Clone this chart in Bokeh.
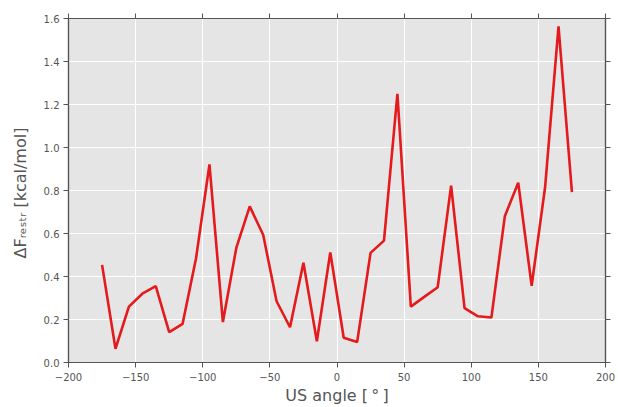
from bokeh.plotting import figure
from bokeh.models import Range1d, LinearAxis, FixedTicker
from bokeh.embed import file_html
from bokeh.resources import INLINE

angle = [-175, -165, -155, -145, -135, -125, -115, -105, -95, -85, -75, -65,
         -55, -45, -35, -25, -15, -5, 5, 15, 25, 35, 45, 55, 65, 75, 85, 95,
         105, 115, 125, 135, 145, 155, 165, 175]
dF = [0.454, 0.064, 0.26, 0.32, 0.355, 0.141, 0.18, 0.485, 0.921, 0.188, 0.533, 0.726,
      0.594, 0.285, 0.164, 0.464, 0.099, 0.512, 0.115, 0.095, 0.51, 0.567, 1.25, 0.26,
      0.305, 0.35, 0.823, 0.253, 0.215, 0.209, 0.68, 0.836, 0.357, 0.815, 1.563, 0.792]

x_ticks = [-200, -150, -100, -50, 0, 50, 100, 150, 200]
y_ticks = [0.0, 0.2, 0.4, 0.6, 0.8, 1.0, 1.2, 1.4, 1.6]

p = figure(width=618, height=407, output_backend="svg", toolbar_location=None,
           x_range=Range1d(-200, 200), y_range=Range1d(0, 1.6),
           min_border_left=68, min_border_right=13, min_border_top=18, min_border_bottom=45)
p.background_fill_color = "#E5E5E5"
p.border_fill_color = "white"
p.outline_line_color = "#555555"
p.outline_line_width = 1.2

p.line(angle, dF, line_color="#E41A1C", line_width=2.6)

bottom = p.below[0]
left = p.left[0]
bottom.ticker = FixedTicker(ticks=x_ticks)
left.ticker = FixedTicker(ticks=y_ticks)
bottom.major_label_overrides = {t: (str(t).replace("-", "\u2212")) for t in x_ticks}
left.major_label_overrides = {t: f"{t:.1f}" for t in y_ticks}

top = LinearAxis(ticker=FixedTicker(ticks=x_ticks))
right = LinearAxis(ticker=FixedTicker(ticks=y_ticks))
top.major_label_overrides = {t: "" for t in x_ticks}
right.major_label_overrides = {t: "" for t in y_ticks}
p.add_layout(top, "above")
p.add_layout(right, "right")

for ax in [bottom, left, top, right]:
    ax.axis_line_color = "#555555"
    ax.axis_line_width = 1.2
    ax.major_tick_line_color = "#555555"
    ax.major_tick_out = 5
    ax.major_tick_in = 0
    ax.minor_tick_line_color = None
    ax.major_label_text_color = "#555555"
    ax.major_label_text_font = "DejaVu Sans"
    ax.major_label_text_font_size = "10px"
    ax.major_label_standoff = 4

top.major_label_standoff = 0
right.major_label_standoff = 0
bottom.major_label_standoff = 5

bottom.axis_label = "US angle [\u2009\u00b0\u2009]"
left.axis_label = "\u0394F\u1d63\u2091\u209b\u209c\u1d63  [kcal/mol]"
for ax in [bottom, left]:
    ax.axis_label_text_font = "DejaVu Sans"
    ax.axis_label_text_font_size = "16px"
    ax.axis_label_text_font_style = "normal"
    ax.axis_label_text_color = "#555555"
bottom.axis_label_standoff = 2
bottom.axis_label_text_line_height = 0.8
left.axis_label_standoff = 11

p.xgrid.grid_line_color = "white"
p.ygrid.grid_line_color = "white"
p.xgrid.grid_line_width = 1
p.ygrid.grid_line_width = 1
p.xgrid.ticker = bottom.ticker
p.ygrid.ticker = left.ticker

open("out.html", "w").write(file_html(p, INLINE))
